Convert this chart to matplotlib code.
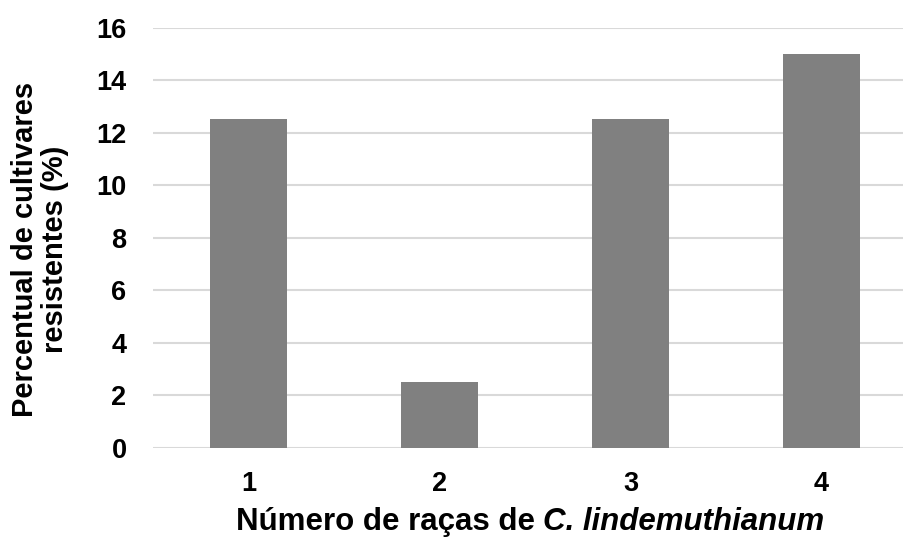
import matplotlib
matplotlib.use("Agg")
import matplotlib.pyplot as plt

categories = ["1", "2", "3", "4"]
values = [12.5, 2.5, 12.5, 15.0]
yticks = [0, 2, 4, 6, 8, 10, 12, 14, 16]

plt.rcParams['font.family'] = ['Liberation Sans', 'DejaVu Sans']
plt.rcParams['font.weight'] = 'bold'

FS = 19.5
XLFS = 22.5
YLFS = 21
W, H = 904, 537
fig = plt.figure(figsize=(W / 100, H / 100), dpi=100)
left, right = 153, 917
top, bottom = 27.5, 447.7
ax = fig.add_axes([left / W, 1 - bottom / H, (right - left) / W, (bottom - top) / H])

x = list(range(len(categories)))
ax.bar(x, values, width=0.4, color="#808080", zorder=3)
ax.set_xlim(-0.5, len(categories) - 0.5)
ax.set_ylim(0, 16)
ax.set_yticks(yticks)
ax.set_yticklabels([str(t) for t in yticks])
ax.set_xticks(x)
ax.set_xticklabels(categories)
ax.grid(axis="y", color="#d9d9d9", linewidth=1.5, zorder=0)
for s in ax.spines.values():
    s.set_visible(False)
ax.tick_params(axis="both", length=0, labelsize=FS)
ax.tick_params(axis="y", pad=19)
ax.tick_params(axis="x", pad=17)
for lbl in ax.get_xticklabels() + ax.get_yticklabels():
    lbl.set_fontweight("bold")

# x label: regular bold part + bold italic species name
part1 = "Número de raças de "
part2 = "C. lindemuthianum"
renderer = fig.canvas.get_renderer()
ybase = 1 - 530 / H
t1 = fig.text(0, ybase, part1, ha="left", va="baseline", fontsize=XLFS, fontweight="bold")
t2 = fig.text(0, ybase, part2, ha="left", va="baseline", fontsize=XLFS, fontweight="bold",
              fontstyle="italic")
w1 = t1.get_window_extent(renderer).width
w2 = t2.get_window_extent(renderer).width
cx = 530
x0 = cx - (w1 + w2) / 2
t1.set_x(x0 / W)
t2.set_x((x0 + w1) / W)

fig.text(40 / W, 1 - 249 / H, "Percentual de cultivares\nresistentes (%)",
         ha="center", va="center", rotation=90, fontsize=YLFS, fontweight="bold",
         linespacing=1.1, multialignment="center")

fig.savefig("out.png", dpi=100)
